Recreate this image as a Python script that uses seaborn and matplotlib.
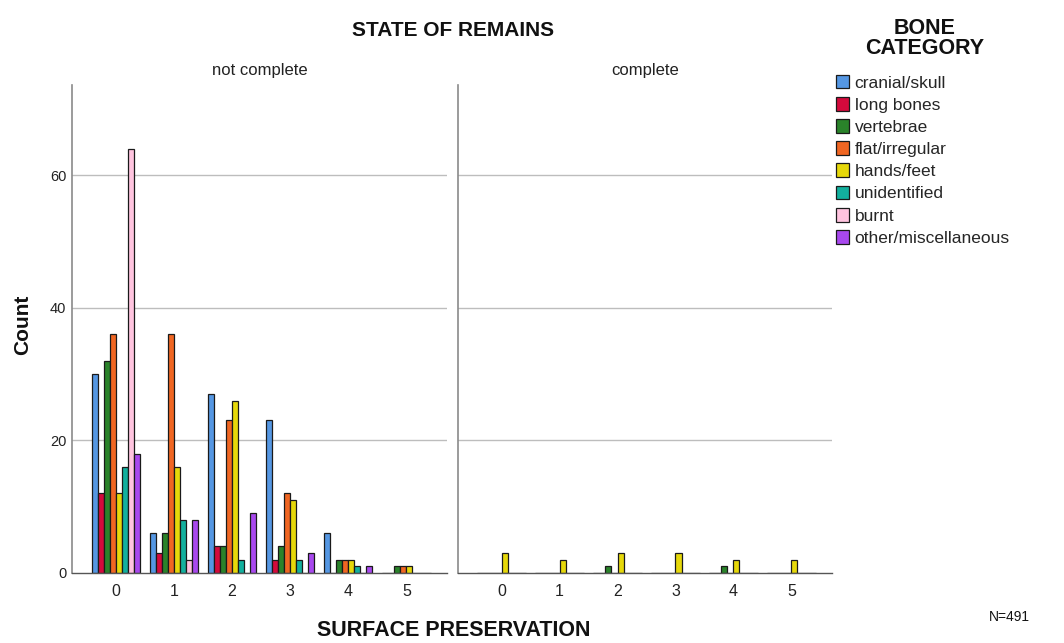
import numpy as np
import pandas as pd
import matplotlib
matplotlib.use("Agg")
import matplotlib.pyplot as plt
import seaborn as sns
from matplotlib.patches import Patch

sns.set_theme(style="white")
plt.rcParams['font.family'] = ['Liberation Sans', 'DejaVu Sans']

# ---- data ----
preservation = ["0", "1", "2", "3", "4", "5"]
states = ["not complete", "complete"]
categories = ["cranial/skull", "long bones", "vertebrae", "flat/irregular",
              "hands/feet", "unidentified", "burnt", "other/miscellaneous"]
colors = ["#5597e3", "#d40a3c", "#2a832a", "#f06622",
          "#e6d80a", "#12b09e", "#ffc4df", "#a848ee"]

# counts per category, indexed by surface preservation 0..5
not_complete = {
    "cranial/skull":       [30, 6, 27, 23, 6, 0],
    "long bones":          [12, 3, 4, 2, 0, 0],
    "vertebrae":           [32, 6, 4, 4, 2, 1],
    "flat/irregular":      [36, 36, 23, 12, 2, 1],
    "hands/feet":          [12, 16, 26, 11, 2, 1],
    "unidentified":        [16, 8, 2, 2, 1, 0],
    "burnt":               [64, 2, 0, 0, 0, 0],
    "other/miscellaneous": [18, 8, 9, 3, 1, 0],
}
complete = {
    "cranial/skull":       [0, 0, 0, 0, 0, 0],
    "long bones":          [0, 0, 0, 0, 0, 0],
    "vertebrae":           [0, 0, 1, 0, 1, 0],
    "flat/irregular":      [0, 0, 0, 0, 0, 0],
    "hands/feet":          [3, 2, 3, 3, 2, 2],
    "unidentified":        [0, 0, 0, 0, 0, 0],
    "burnt":               [0, 0, 0, 0, 0, 0],
    "other/miscellaneous": [0, 0, 0, 0, 0, 0],
}

rows = []
for state, table in zip(states, [not_complete, complete]):
    for cat in categories:
        for p, v in zip(preservation, table[cat]):
            rows.append({"state": state, "category": cat, "pres": p, "count": v})
df = pd.DataFrame(rows)

fig = plt.figure(figsize=(10.64, 6.43), dpi=100)
ax_pos = [[0.0677, 0.109, 0.3525, 0.759], [0.4305, 0.109, 0.3515, 0.759]]
palette = dict(zip(categories, colors))

for i, state in enumerate(states):
    ax = fig.add_axes(ax_pos[i])
    sub = df[df.state == state]
    sns.barplot(data=sub, x="pres", y="count", hue="category",
                order=preservation, hue_order=categories, palette=palette,
                dodge=True, width=0.83, edgecolor="#1a1a1a", linewidth=0.9,
                saturation=1, legend=False, ax=ax, errorbar=None)
    ax.set_xlim(-0.75, 5.7)
    ax.set_ylim(0, 73.6)
    ax.set_yticks([0, 20, 40, 60])
    for yv in [20, 40, 60]:
        ax.axhline(yv, color="#bdbdbd", linewidth=1.0, zorder=0)
    ax.set_xlabel("")
    ax.set_ylabel("")
    ax.tick_params(axis="x", labelsize=11.5, colors="#222222", length=0, pad=8)
    if i == 0:
        ax.tick_params(axis="y", labelsize=10.5, colors="#222222", length=0, pad=4)
    else:
        ax.tick_params(axis="y", left=False, labelleft=False)
    for s in ["top", "right"]:
        ax.spines[s].set_visible(False)
    ax.spines["left"].set_color("#8a8a8a")
    ax.spines["left"].set_linewidth(1.2)
    ax.spines["bottom"].set_color("#555555")
    ax.spines["bottom"].set_linewidth(1.0)
    ax.set_title(state, fontsize=12, color="#222222", pad=7)

fig.text(0.426, 0.953, "STATE OF REMAINS", fontsize=15, fontweight="bold",
         ha="center", va="center", color="#111111")
fig.text(0.021, 0.495, "Count", fontsize=15, fontweight="bold", rotation=90,
         ha="center", va="center", color="#111111")
fig.text(0.426, 0.019, "SURFACE PRESERVATION", fontsize=15.5, fontweight="bold",
         ha="center", va="center", color="#111111")
fig.text(0.949, 0.04, "N=491", fontsize=10, ha="center", va="center", color="#111111")
fig.text(0.869, 0.94, "BONE\nCATEGORY", fontsize=15.5, fontweight="bold",
         ha="center", va="center", multialignment="center", linespacing=0.95,
         color="#111111")

handles = [Patch(facecolor=c, edgecolor="#1a1a1a", linewidth=0.9) for c in colors]
leg = fig.legend(handles, categories, loc="upper left", bbox_to_anchor=(0.786, 0.884),
                 frameon=False, fontsize=12.5,
                 handlelength=0.75, handleheight=0.85, handletextpad=0.3,
                 labelspacing=0.36, borderaxespad=0, borderpad=0)

fig.savefig("out.png", dpi=100)
